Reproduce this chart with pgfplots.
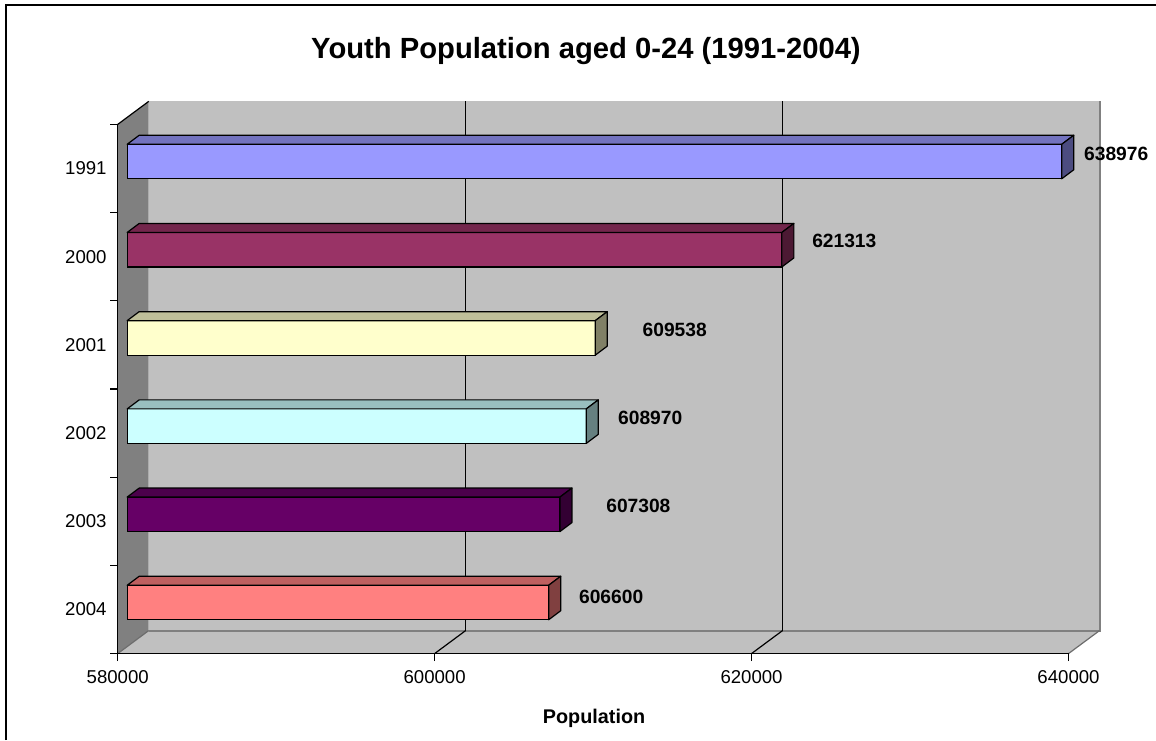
\documentclass[border=0pt]{standalone}
\usepackage{pgfplots}
\pgfplotsset{compat=1.18}
\usepackage{fontspec}
\setmainfont{Liberation Sans}

\definecolor{cA}{HTML}{9999FF}
\definecolor{cB}{HTML}{993366}
\definecolor{cC}{HTML}{FFFFCC}
\definecolor{cD}{HTML}{CCFFFF}
\definecolor{cE}{HTML}{660066}
\definecolor{cF}{HTML}{FF8080}
\definecolor{wall}{HTML}{C0C0C0}
\definecolor{sidewall}{HTML}{808080}

\pgfdeclareplotmark{emptymark}{}

\pgfplotsset{
  face3d/.style 2 args={
    scatter, only marks, mark=emptymark, point meta=x,
    scatter/@pre marker code/.code={%
      \edef\L{\fpeval{(#2-580000)*475.4/60000}}%
      \filldraw[fill=#1!75!black, draw=black, line width=0.6pt, line join=round]
        (-\L pt,8.625pt) -- (0pt,8.625pt) -- (6pt,13.125pt) -- ({6pt-\L pt},13.125pt) -- cycle;
      \filldraw[fill=#1!50!black, draw=black, line width=0.6pt, line join=round]
        (0pt,-8.625pt) -- (0pt,8.625pt) -- (6pt,13.125pt) -- (6pt,-4.125pt) -- cycle;
    },
    scatter/@post marker code/.code={},
  },
  lbl/.style 2 args={only marks, mark=emptymark, point meta=x,
    nodes near coords={\pgfmathprintnumber[fixed,precision=0,1000 sep={},assume math mode=true]{\pgfplotspointmeta}},
    every node near coord/.append style={anchor=west, inner sep=0pt, xshift=#1pt, yshift=#2pt, text=black, font=\bfseries\fontsize{9.6}{11}\selectfont}},
  frontbar/.style={xbar, bar width=17.25pt, bar shift=0pt, fill=#1, draw=black, line width=0.6pt},
  planeaxis/.style={scale only axis, anchor=south west, width=475.4pt, height=264.6pt,
    xmin=580000, xmax=640000, ymin=-0.5, ymax=5.5},
}

\begin{document}
\begin{tikzpicture}[x=1pt,y=1pt]
\path[use as bounding box] (0,0) rectangle (578,370);
\draw[line width=1pt] (3,0) -- (3,367.5) -- (578,367.5);
% walls and floor
\fill[sidewall] (58.85,43.2) -- (58.85,307.8) -- (74.35,319.3) -- (74.35,54.7) -- cycle;
\fill[wall] (74.35,54.7) rectangle (549.75,319.3);
\fill[wall] (58.85,43.2) -- (534.25,43.2) -- (549.75,54.7) -- (74.35,54.7) -- cycle;
\draw[sidewall, line width=1pt] (74.35,54.7) -- (549.75,54.7) -- (549.75,319.3);
\draw[sidewall!85!black, line width=0.6pt] (58.85,43.2) -- (74.35,54.7);
\draw[sidewall!85!black, line width=0.6pt] (534.25,43.2) -- (549.75,54.7);
\draw[black, line width=0.6pt] (58.85,307.8) -- (74.35,319.3);
\draw[black, line width=0.6pt] (217.3,43.2) -- (232.8,54.7);
\draw[black, line width=0.6pt] (375.75,43.2) -- (391.25,54.7);

% back plane: gridlines
\begin{axis}[planeaxis, at={(74.35pt,54.7pt)},
  axis line style={draw=none}, xtick={600000,620000}, ytick=\empty,
  major tick length=0pt, xticklabels={}, scaled x ticks=false,
  xmajorgrids, grid style={black, line width=0.6pt}]
\addplot[draw=none] coordinates {(580000,0)};
\end{axis}

% bar plane: front faces
\begin{axis}[planeaxis, at={(63.6pt,46.7pt)}, hide axis, clip=true]
\addplot[frontbar=cA] coordinates {(638976,5)};
\addplot[frontbar=cB] coordinates {(621313,4)};
\addplot[frontbar=cC] coordinates {(609538,3)};
\addplot[frontbar=cD] coordinates {(608970,2)};
\addplot[frontbar=cE] coordinates {(607308,1)};
\addplot[frontbar=cF] coordinates {(606600,0)};
\end{axis}

% bar plane: top and side faces, value labels
\begin{axis}[planeaxis, at={(63.6pt,46.7pt)}, hide axis, clip=false]
\addplot[face3d={cA}{638976}] coordinates {(638976,5)};
\addplot[face3d={cB}{621313}] coordinates {(621313,4)};
\addplot[face3d={cC}{609538}] coordinates {(609538,3)};
\addplot[face3d={cD}{608970}] coordinates {(608970,2)};
\addplot[face3d={cE}{607308}] coordinates {(607308,1)};
\addplot[face3d={cF}{606600}] coordinates {(606600,0)};
\addplot[lbl={11}{3.75}] coordinates {(638976,5)};
\addplot[lbl={15}{4.25}] coordinates {(621313,4)};
\addplot[lbl={23.5}{4}] coordinates {(609538,3)};
\addplot[lbl={15.75}{4}] coordinates {(608970,2)};
\addplot[lbl={23}{4}] coordinates {(607308,1)};
\addplot[lbl={15}{3}] coordinates {(606600,0)};
\end{axis}

% front plane: axes, ticks, labels
\begin{axis}[planeaxis, at={(58.85pt,43.2pt)},
  axis lines*=left, axis line style={black, line width=0.6pt},
  xtick={580000,600000,620000,640000}, scaled x ticks=false,
  ytick={-0.5,0.5,1.5,2.5,3.5,4.5,5.5},
  y tick label as interval,
  yticklabels={2004,2003,2002,2001,2000,1991},
  tick align=outside, major tick length=3.75pt,
  tick style={black, line width=0.6pt},
  tick label style={font=\fontsize{9.3}{11}\selectfont},
  xticklabel style={anchor=north, inner sep=0pt, yshift=-4.4pt,
    /pgf/number format/fixed, /pgf/number format/precision=0,
    /pgf/number format/1000 sep={}, /pgf/number format/assume math mode=true},
  yticklabel style={anchor=east, inner sep=0pt, xshift=-1.6pt},
  xlabel={Population},
  xlabel style={at={(axis description cs:0.501,-0.1317)}, anchor=base, inner sep=0pt, font=\bfseries\fontsize{9.9}{12}\selectfont},
  title={Youth Population aged 0-24 (1991-2004)},
  title style={at={(axis description cs:0.4925,1.1028)}, anchor=base, inner sep=0pt, font=\bfseries\fontsize{14.6}{17}\selectfont},
]
\addplot[draw=none] coordinates {(580000,0)};
\end{axis}
\end{tikzpicture}
\end{document}
